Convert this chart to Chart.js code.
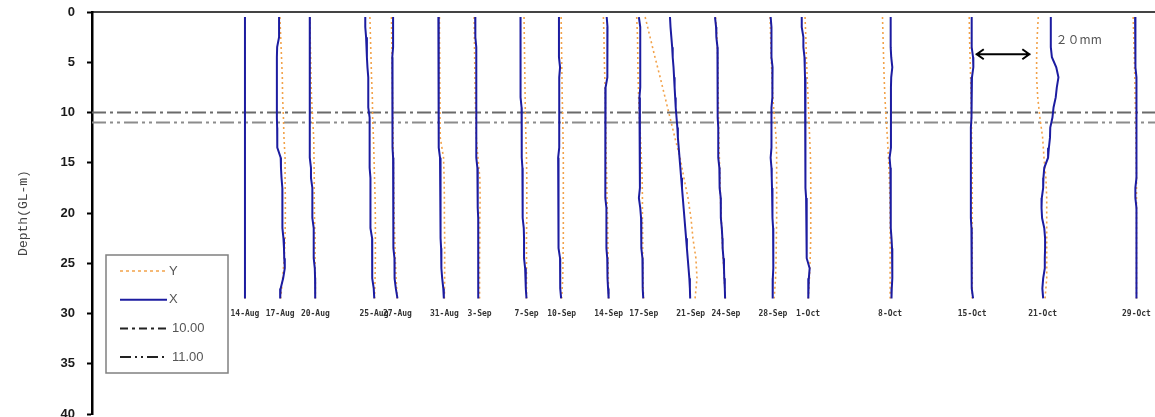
<!DOCTYPE html>
<html><head><meta charset="utf-8">
<script src="https://cdn.jsdelivr.net/npm/chart.js@4.4.1/dist/chart.umd.min.js"></script>
<style>html,body{margin:0;padding:0;background:#fff;overflow:hidden}canvas{display:block}</style>
</head><body>
<canvas id="c" width="1155" height="417"></canvas>
<script>
// ---- data ----
const DATE_LABELS = ['14-Aug','17-Aug','20-Aug','25-Aug','27-Aug','31-Aug','3-Sep','7-Sep','10-Sep','14-Sep','17-Sep','21-Sep','24-Sep','28-Sep','1-Oct','8-Oct','15-Oct','21-Oct','29-Oct'];
// days after 14-Aug (profile baseline position)
const DATE_DAYS = [0,3,6,11,13,17,20,24,27,31,34,38,41,45,48,55,62,68,76];
const DEPTHS_X = [0.5,1.5,2.5,3.5,4.5,5.5,6.5,7.5,8.5,9.5,10.5,11.5,12.5,13.5,14.5,15.5,16.5,17.5,18.5,19.5,20.5,21.5,22.5,23.5,24.5,25.5,26.5,27.5,28.5];
const DEPTHS_Y = [0.5,2.5,4.5,6.5,8.5,10.5,12.5,14.5,16.5,18.5,20.5,22.5,24.5,26.5,28.5];

// X-direction displacement (mm)
const X_14AUG = [0,0,0,0,0,0,0,0,0,0,0,0,0,0,0,0,0,0,0,0,0,0,0,0,0,0,0,0,0];
const X_17AUG = [-0.4,-0.4,-0.4,-1.1,-1.2,-1.2,-1.2,-1.2,-1.2,-1.2,-1.2,-1.1,-1.1,-1.0,0.2,0.3,0.5,0.8,0.8,0.8,0.8,0.9,1.2,1.4,1.5,1.7,1.1,0.2,0];
const X_20AUG = [-2.0,-2.0,-2.0,-2.0,-2.0,-2.0,-2.0,-2.2,-2.2,-2.2,-2.0,-2.0,-2.0,-2.0,-2.0,-1.6,-1.6,-1.1,-1.1,-1.1,-1.1,-0.6,-0.6,-0.6,-0.6,-0.2,-0.1,-0.1,0];
const X_25AUG = [-3.2,-3.2,-2.9,-2.6,-2.6,-2.4,-2.1,-2.1,-2.1,-2.1,-1.6,-1.6,-1.6,-1.6,-1.6,-1.6,-1.3,-1.3,-1.3,-1.3,-1.3,-1.3,-0.7,-0.7,-0.7,-0.7,-0.5,-0.1,0.1];
const X_27AUG = [-1.6,-1.6,-1.6,-1.6,-1.9,-1.9,-1.8,-1.8,-1.8,-1.8,-1.8,-1.8,-1.8,-1.8,-1.6,-1.6,-1.6,-1.6,-1.6,-1.4,-1.4,-1.4,-1.4,-1.4,-1.1,-1.1,-1.0,-0.6,0];
const X_31AUG = [-2.2,-2.1,-2.0,-2.1,-2.2,-2.2,-2.2,-2.1,-2.0,-2.0,-2.0,-2.0,-2.0,-2.0,-1.6,-1.6,-1.6,-1.4,-1.4,-1.3,-1.3,-1.3,-1.3,-1.2,-1.2,-1.0,-0.8,-0.4,-0.2];
const X_03SEP = [-1.6,-1.6,-1.5,-1.2,-1.2,-1.2,-1.2,-1.2,-1.2,-1.3,-1.3,-1.2,-1.2,-1.1,-1.1,-0.8,-0.7,-0.7,-0.7,-0.6,-0.5,-0.5,-0.5,-0.5,-0.5,-0.5,-0.5,-0.5,-0.4];
const X_07SEP = [-2.2,-2.2,-2.2,-2.2,-2.2,-2.2,-2.2,-2.1,-2.1,-1.8,-1.7,-1.7,-1.7,-1.7,-1.9,-1.5,-1.4,-1.4,-1.4,-1.4,-1.4,-1.0,-0.9,-0.9,-0.9,-0.5,-0.3,-0.2,0];
const X_10SEP = [-1.0,-1.0,-1.0,-1.0,-1.0,-0.6,-0.9,-0.9,-0.9,-0.9,-0.9,-0.9,-0.9,-0.9,-1.3,-1.3,-1.3,-1.3,-1.3,-1.2,-1.0,-1.0,-1.0,-1.0,-0.6,-0.6,-0.6,-0.4,-0.2];
const X_14SEP = [-0.7,-0.4,-0.3,-0.5,-0.5,-0.5,-0.5,-1.1,-1.2,-1.3,-1.3,-1.3,-1.3,-1.3,-1.1,-1.1,-1.1,-1.1,-1.1,-0.8,-0.8,-0.8,-0.8,-0.8,-0.5,-0.4,-0.4,-0.2,0];
const X_17SEP = [-1.8,-1.3,-1.3,-1.3,-1.3,-1.3,-1.3,-1.3,-1.6,-1.6,-1.4,-1.4,-1.4,-1.4,-1.4,-1.4,-1.4,-1.4,-1.8,-1.3,-1.0,-1.0,-1.0,-0.7,-0.5,-0.5,-0.4,-0.3,-0.2];
const X_21SEP = [-7.6,-7.4,-7.1,-6.8,-6.6,-6.3,-6.1,-5.9,-5.7,-5.5,-5.2,-4.9,-4.7,-4.4,-4.1,-3.8,-3.5,-3.2,-2.9,-2.6,-2.3,-2.0,-1.7,-1.4,-1.1,-0.8,-0.5,-0.3,-0.2];
const X_24SEP = [-4.0,-3.6,-3.5,-3.1,-3.1,-3.1,-3.0,-3.0,-3.0,-3.0,-2.9,-2.8,-2.8,-2.8,-2.8,-2.4,-2.4,-2.2,-1.9,-1.9,-1.8,-1.5,-1.3,-1.2,-0.9,-0.7,-0.6,-0.4,-0.3];
const X_28SEP = [-0.8,-0.5,-0.5,-0.5,-0.5,-0.1,-0.1,-0.1,-0.3,-0.5,-0.5,-0.5,-0.5,-0.5,-0.8,-0.5,-0.4,-0.3,-0.2,-0.1,-0.1,0.1,0.2,0.2,0.2,0.1,0,0,-0.1];
const X_01OCT = [-2.3,-2.3,-1.7,-1.7,-1.3,-1.2,-1.1,-1.1,-1.1,-1.0,-0.9,-0.9,-0.9,-0.9,-0.9,-0.9,-0.9,-0.9,-0.7,-0.5,-0.5,-0.5,-0.5,-0.5,-0.4,0.6,0.3,0.1,0.1];
const X_08OCT = [0.2,0.2,0.2,0.2,0.4,0.8,0.4,0.3,0.3,0.3,0.3,0.3,0.3,0.3,-0.2,0.1,0.2,0.2,0.2,0.2,0.3,0.3,0.5,0.7,0.8,0.8,0.8,0.6,0.5];
const X_15OCT = [-0.2,-0.2,-0.2,-0.2,0.3,0.4,-0.1,-0.2,-0.2,-0.3,-0.4,-0.5,-0.5,-0.5,-0.5,-0.5,-0.5,-0.5,-0.5,-0.5,-0.5,-0.3,-0.2,-0.2,-0.2,-0.2,-0.2,-0.1,0.3];
const X_21OCT = [3.0,3.0,3.0,3.0,3.4,5.0,5.8,5.2,4.8,4.0,3.6,2.8,2.7,2.3,2.0,0.6,0.3,0.2,-0.3,-0.4,-0.2,0.6,0.9,0.9,0.8,0.8,0.2,-0.1,0.2];
const X_29OCT = [-0.5,-0.5,-0.5,-0.5,-0.2,-0.2,0,0,0,0,0,0,0,0,0,0,0,-0.4,-0.4,0,0,0,0,0,0,0,0,0,0];

// Y-direction displacement (mm)
const Y_14AUG = [0,0,0,0,0,0,0,0,0,0,0,0,0,0,0];
const Y_17AUG = [-0.1,0.2,0.5,0.8,0.9,1.2,1.4,1.8,1.8,1.9,1.9,1.8,1.5,0.9,0.2];
const Y_20AUG = [-2.0,-1.9,-1.7,-1.6,-1.4,-1.0,-0.6,-0.5,-0.4,-0.4,-0.3,-0.1,-0.1,0,0];
const Y_25AUG = [-1.5,-1.3,-1.1,-0.9,-0.6,-0.5,-0.2,0,0.2,0.4,0.5,0.5,0.5,0.4,0.2];
const Y_27AUG = [-2.2,-2.1,-2.0,-1.9,-1.8,-1.7,-1.6,-1.5,-1.4,-1.3,-1.2,-1.0,-0.8,-0.5,-0.1];
const Y_31AUG = [-1.8,-1.8,-1.7,-1.7,-1.6,-1.6,-1.5,-0.3,-0.1,0,0,0.1,0.1,0.1,0];
const Y_03SEP = [-2.0,-1.9,-1.8,-1.7,-1.6,-1.4,-1.2,-0.6,0.1,0.2,0.1,0.1,0,0,0];
const Y_07SEP = [-0.9,-0.8,-0.7,-0.6,-0.5,-0.4,-0.2,0,0.1,0.1,0.1,0,0,0,0];
const Y_10SEP = [-0.2,-0.1,0,0.1,0.2,0.4,0.5,0.6,0.6,0.6,0.6,0.6,0.5,0.4,0];
const Y_14SEP = [-1.9,-1.7,-1.6,-1.4,-1.2,-1.1,-1.0,-0.9,-0.7,-0.6,-0.4,-0.3,-0.2,-0.1,0];
const Y_17SEP = [-2.6,-2.3,-2.2,-2.1,-1.9,-1.6,-1.2,-0.9,-0.6,-0.5,-0.5,-0.4,-0.4,-0.3,-0.1];
const Y_21SEP = [-16.7,-14.9,-13.1,-11.2,-9.4,-7.6,-5.8,-3.9,-2.5,-1.0,0.1,0.8,1.9,2.3,1.6];
const Y_24SEP = [-3.8,-3.3,-3.0,-2.9,-2.8,-2.7,-2.6,-2.4,-2.2,-2.0,-1.7,-1.4,-1.0,-0.6,-0.2];
const Y_28SEP = [-1.0,-0.8,-0.6,-0.3,0,0.6,1.2,1.4,1.4,1.4,1.4,1.3,1.2,1.0,0.5];
const Y_01OCT = [-1.1,-0.8,-0.6,-0.3,0,0.3,0.6,0.9,1.0,1.0,1.0,1.0,0.8,0.5,0.1];
const Y_08OCT = [-2.8,-2.6,-2.4,-2.2,-1.9,-1.5,-1.0,-0.6,-0.3,-0.1,0,0,0,0,0];
const Y_15OCT = [-1.1,-1.0,-0.8,-0.6,-0.4,-0.3,-0.2,-0.1,0,0,0,0,0,0,0];
const Y_21OCT = [-1.6,-2.0,-2.2,-2.2,-1.8,-1.0,0,0.5,1.2,1.5,1.5,1.5,1.5,1.5,0.9];
const Y_29OCT = [-1.2,-1.0,-0.8,-0.6,-0.5,-0.3,-0.2,-0.1,0,0,0,0,0,0,0];

const X_SERIES = [X_14AUG,X_17AUG,X_20AUG,X_25AUG,X_27AUG,X_31AUG,X_03SEP,X_07SEP,X_10SEP,X_14SEP,X_17SEP,X_21SEP,X_24SEP,X_28SEP,X_01OCT,X_08OCT,X_15OCT,X_21OCT,X_29OCT];
const Y_SERIES = [Y_14AUG,Y_17AUG,Y_20AUG,Y_25AUG,Y_27AUG,Y_31AUG,Y_03SEP,Y_07SEP,Y_10SEP,Y_14SEP,Y_17SEP,Y_21SEP,Y_24SEP,Y_28SEP,Y_01OCT,Y_08OCT,Y_15OCT,Y_21OCT,Y_29OCT];

const REF_DEPTHS = [10, 11];
const REF_LABELS = ['10.00', '11.00'];
const Y_TICKS = [0,5,10,15,20,25,30,35,40];
const SCALE_LABEL = '２０mm';
const SCALE_MM = 20;
const AXIS_TITLE = 'Depth(GL-m)';

// ---- layout / style constants ----
const MM_PER_DAY = 4.3;        // horizontal drawing scale: mm of displacement per day of spacing
const X_MIN = -13.04, X_MAX = 77.58;
const LABEL_DEPTH = 30.0;
const ARROW_START_DAY = 62.3, ARROW_DEPTH = 4.2;
const TEXT_DAY = 69.1, TEXT_DEPTH = 2.7;

const BLUE = '#1c1ca0';
const ORANGE = '#f2a24a';
const REF_STYLES = [
  {color:'#6a6a6a', dash:[14,4,3,4], legendDash:[8,4,3,4]},
  {color:'#8c8c8c', dash:[14,4,3,4,3,4], legendDash:[11,4,2,4,2,4]}
];

const datasets = [];
DATE_LABELS.forEach((lab, i) => {
  datasets.push({
    label: 'X', showLine: true, pointRadius: 0, borderColor: BLUE, borderWidth: 2, order: 1,
    data: DEPTHS_X.map((d, k) => ({x: DATE_DAYS[i] + X_SERIES[i][k] / MM_PER_DAY, y: d}))
  });
  datasets.push({
    label: 'Y', showLine: true, pointRadius: 0, borderColor: ORANGE, borderWidth: 1.6, borderDash: [2, 3], order: 2,
    data: DEPTHS_Y.map((d, k) => ({x: DATE_DAYS[i] + Y_SERIES[i][k] / MM_PER_DAY, y: d}))
  });
});
REF_DEPTHS.forEach((dep, i) => {
  datasets.push({
    label: REF_LABELS[i], showLine: true, pointRadius: 0, borderColor: REF_STYLES[i].color, borderWidth: 2,
    borderDash: REF_STYLES[i].dash, order: 3,
    data: [{x: X_MIN, y: dep}, {x: X_MAX, y: dep}]
  });
});

const LEGEND_ITEMS = [
  {text: 'Y', color: ORANGE, dash: [3, 3], width: 1.5},
  {text: 'X', color: BLUE, dash: [], width: 2},
  {text: REF_LABELS[0], color: '#222', dash: REF_STYLES[0].legendDash, width: 2},
  {text: REF_LABELS[1], color: '#222', dash: REF_STYLES[1].legendDash, width: 2}
];

const extras = {
  id: 'extras',
  afterDatasetsDraw(chart) {
    const ctx = chart.ctx, xs = chart.scales.x, ys = chart.scales.y, ca = chart.chartArea;
    ctx.save();
    // date labels
    ctx.font = 'bold 8px "DejaVu Sans Mono"';
    ctx.fillStyle = '#333';
    ctx.textAlign = 'center';
    ctx.textBaseline = 'middle';
    DATE_LABELS.forEach((lab, i) => {
      ctx.fillText(lab, xs.getPixelForValue(DATE_DAYS[i]), ys.getPixelForValue(LABEL_DEPTH));
    });
    // 20mm arrow
    const ax0 = xs.getPixelForValue(ARROW_START_DAY);
    const ax1 = xs.getPixelForValue(ARROW_START_DAY + SCALE_MM / MM_PER_DAY);
    const ay = ys.getPixelForValue(ARROW_DEPTH);
    ctx.strokeStyle = '#000';
    ctx.lineWidth = 2;
    ctx.setLineDash([]);
    ctx.beginPath();
    ctx.moveTo(ax0, ay); ctx.lineTo(ax1, ay);
    ctx.moveTo(ax0 + 8, ay - 5); ctx.lineTo(ax0 + 1, ay); ctx.lineTo(ax0 + 8, ay + 5);
    ctx.moveTo(ax1 - 8, ay - 5); ctx.lineTo(ax1 - 1, ay); ctx.lineTo(ax1 - 8, ay + 5);
    ctx.stroke();
    ctx.font = '12px "Noto Sans CJK JP"';
    ctx.fillStyle = '#555';
    ctx.textAlign = 'left';
    ctx.fillText(SCALE_LABEL, xs.getPixelForValue(TEXT_DAY), ys.getPixelForValue(TEXT_DEPTH));
    // legend box
    const bx = ca.left + 14, by = ca.top + 243, bw = 122, bh = 118;
    ctx.fillStyle = '#fff';
    ctx.fillRect(bx, by, bw, bh);
    ctx.strokeStyle = '#808080';
    ctx.lineWidth = 1.5;
    ctx.strokeRect(bx, by, bw, bh);
    ctx.font = '13px "Liberation Sans"';
    ctx.textBaseline = 'middle';
    LEGEND_ITEMS.forEach((it, k) => {
      const yy = by + 16 + k * 28.7;
      ctx.strokeStyle = it.color;
      ctx.lineWidth = it.width;
      ctx.setLineDash(it.dash);
      ctx.beginPath();
      ctx.moveTo(bx + 14, yy); ctx.lineTo(bx + 61, yy);
      ctx.stroke();
      ctx.setLineDash([]);
      ctx.fillStyle = '#555';
      ctx.fillText(it.text, bx + (k < 2 ? 63 : 66), yy);
    });
    ctx.restore();
  }
};

new Chart(document.getElementById('c'), {
  type: 'scatter',
  data: {datasets},
  plugins: [extras],
  options: {
    responsive: false, animation: false, devicePixelRatio: 1,
    layout: {padding: {top: 12, bottom: 3, left: 0, right: 0}},
    plugins: {legend: {display: false}, tooltip: {enabled: false}},
    elements: {line: {tension: 0}},
    scales: {
      x: {
        type: 'linear', position: 'top', min: X_MIN, max: X_MAX,
        ticks: {display: false},
        grid: {display: true, drawOnChartArea: false, drawTicks: false},
        border: {display: true, color: '#444', width: 2},
        afterFit(s) { s.height = 0; s.paddingLeft = 0; s.paddingRight = 0; }
      },
      y: {
        type: 'linear', reverse: true, min: 0, max: 40,
        afterBuildTicks(s) { s.ticks = Y_TICKS.map(v => ({value: v})); },
        ticks: {color: '#1a1a1a', font: {family: '"Liberation Sans"', size: 13, weight: 'bold'}, padding: 12},
        grid: {drawOnChartArea: false, drawTicks: true, tickLength: 5, color: '#000', tickWidth: 2},
        border: {display: true, color: '#000', width: 2.5},
        title: {display: true, text: AXIS_TITLE, color: '#444', font: {family: '"Liberation Mono"', size: 13}, padding: {top: 16, bottom: 0}},
        afterFit(s) { s.width = 92; s.paddingTop = 0; s.paddingBottom = 0; }
      }
    }
  }
});
</script>
</body></html>
